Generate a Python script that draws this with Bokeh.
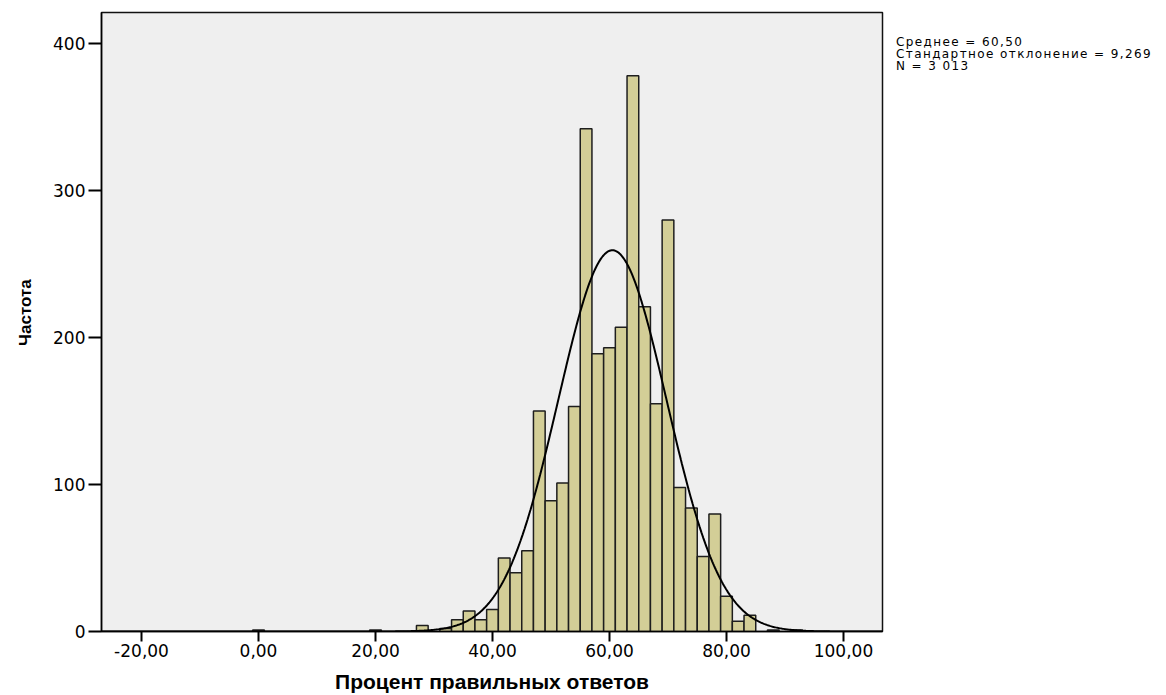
import numpy as np
from bokeh.plotting import figure
from bokeh.layouts import row
from bokeh.models import Range1d, FixedTicker, CustomJSTickFormatter, Div
from bokeh.embed import file_html
from bokeh.resources import INLINE

# ---- data ----
bin_centers = [0, 20, 28, 32, 34, 36, 38, 40, 42, 44, 46, 48, 50, 52, 54, 56, 58,
               60, 62, 64, 66, 68, 70, 72, 74, 76, 78, 80, 82, 84, 88, 92]
counts = [1, 1, 4, 2, 8, 14, 8, 15, 50, 40, 55, 150, 89, 101, 153, 342, 189,
          193, 207, 378, 221, 155, 280, 98, 84, 51, 80, 24, 7, 11, 1, 1]
bin_width = 2
mean_val = 60.50
std_val = 9.269
n_val = 3013
x_ticks = [-20, 0, 20, 40, 60, 80, 100]
y_ticks = [0, 100, 200, 300, 400]
stats_lines = ["Среднее = 60,50", "Стандартное отклонение = 9,269", "N = 3 013"]
x_title = "Процент правильных ответов"
y_title = "\u00a0\u00a0\u00a0\u00a0Частота"

BAR = "#d3ce97"
BG = "#efefef"

p = figure(width=886, height=695, output_backend="svg", toolbar_location=None,
           x_range=Range1d(-26.84, 106.67), y_range=Range1d(0, 421.1),
           min_border_left=101, min_border_top=12, min_border_right=4,
           min_border_bottom=64)
p.background_fill_color = BG
p.border_fill_color = "white"
p.outline_line_color = "#111111"
p.outline_line_width = 1.5
p.grid.visible = False

bc = np.array(bin_centers, dtype=float)
p.quad(left=bc - bin_width / 2, right=bc + bin_width / 2, bottom=0, top=counts,
       fill_color=BAR, line_color="#1e1e1e", line_width=1.5)

# normal curve fitted from the stated statistics
xs = np.linspace(-26.8, 106.6, 800)
ys = n_val * bin_width / (std_val * np.sqrt(2 * np.pi)) * np.exp(-0.5 * ((xs - mean_val) / std_val) ** 2)
p.line(xs, ys, line_color="black", line_width=2)

fmt = CustomJSTickFormatter(code="return tick.toFixed(2).replace('.', ',');")
p.xaxis.ticker = FixedTicker(ticks=x_ticks)
p.xaxis.formatter = fmt
p.yaxis.ticker = FixedTicker(ticks=y_ticks)

for ax in (p.xaxis[0], p.yaxis[0]):
    ax.axis_line_color = "black"
    ax.axis_line_width = 1.5
    ax.major_tick_line_color = "black"
    ax.major_tick_line_width = 2
    ax.major_tick_in = 0
    ax.minor_tick_line_color = None
    ax.major_label_text_font = "DejaVu Sans"
    ax.major_label_text_font_size = "17px"
    ax.major_label_text_color = "black"
    ax.axis_label_text_color = "black"
    ax.axis_label_text_font_style = "bold"

p.xaxis.major_tick_out = 10
p.xaxis.major_label_standoff = 2
p.yaxis.major_tick_out = 13
p.yaxis.major_label_standoff = 3

p.xaxis.axis_label = x_title
p.xaxis.axis_label_text_font = "Liberation Sans"
p.xaxis.axis_label_text_font_size = "21px"
p.xaxis.axis_label_standoff = 10

p.yaxis.axis_label = y_title
p.yaxis.axis_label_text_font = "Liberation Sans"
p.yaxis.axis_label_text_font_size = "17px"
p.yaxis.axis_label_standoff = 15

# statistics box to the right of the plot
stats_html = "<br>".join(stats_lines)
div = Div(text=stats_html, width=272, height=120, margin=(0, 0, 0, 0),
          styles={"font-family": "DejaVu Sans", "font-size": "12px",
                  "line-height": "12px", "letter-spacing": "1.4px",
                  "padding-top": "36px",
                  "padding-left": "10px", "white-space": "nowrap",
                  "color": "black"})

layout = row(p, div)
open("out.html", "w").write(file_html(layout, INLINE))
